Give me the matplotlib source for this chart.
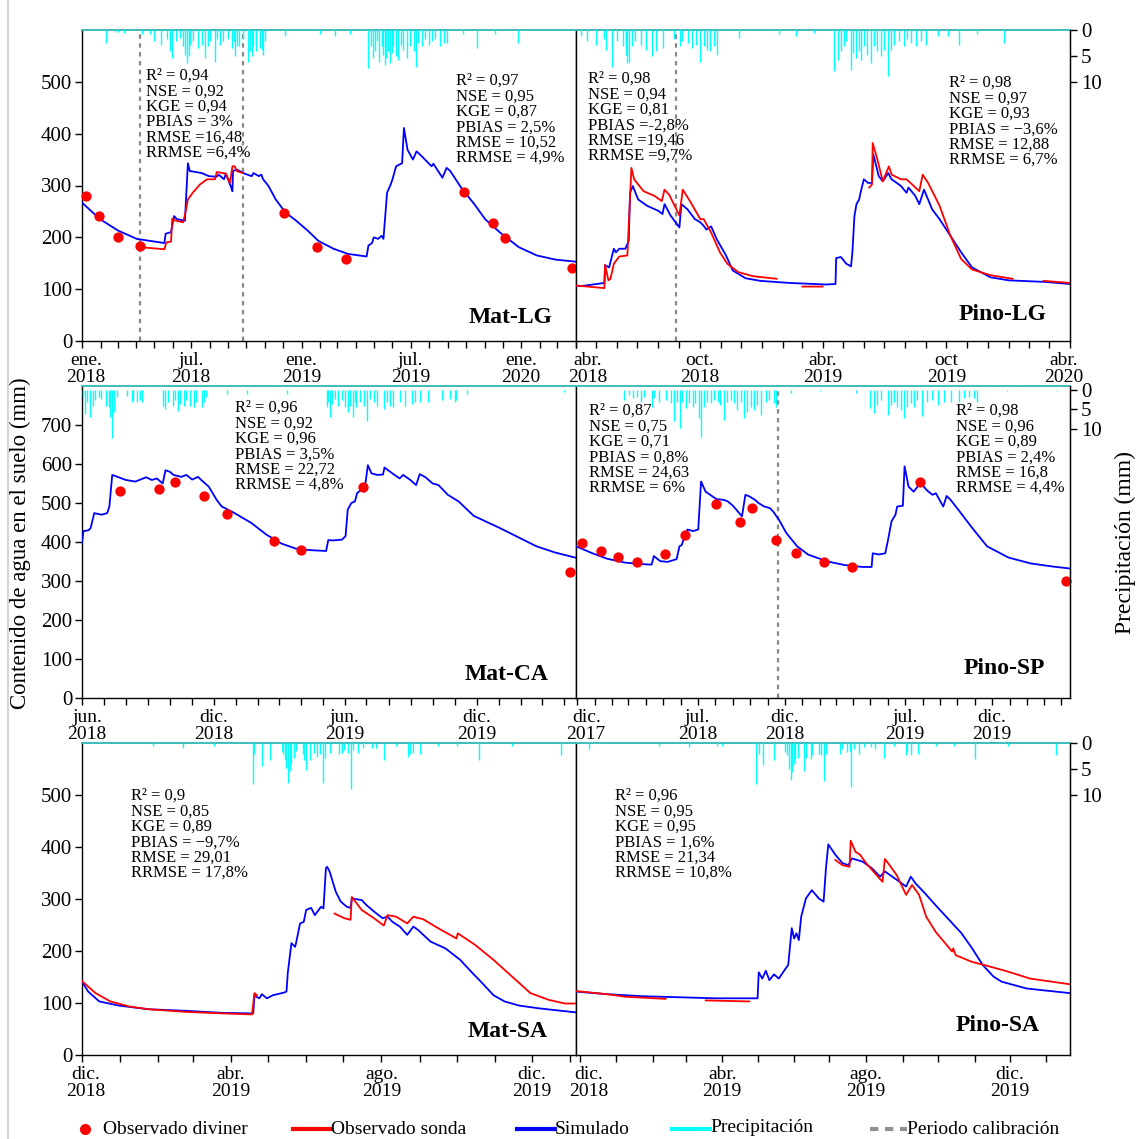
import numpy as np
import matplotlib
matplotlib.use("Agg")
import matplotlib.pyplot as plt
import matplotlib.dates as mdates
import matplotlib.transforms as mtransforms
from matplotlib.ticker import FixedLocator, FixedFormatter

plt.rcParams['font.family'] = ['Liberation Serif', 'DejaVu Serif']

W, H = 1143, 1139
RED = '#ff0000'
BLUE = '#0000ff'
CYAN = '#00ffff'
nan = np.nan

# ---------------- Mat-LG (days since 2018-01-01) ----------------
matlg_sim_day = [0, 30, 60, 91, 137, 139, 148, 153, 158, 171, 176, 179, 199, 211, 224, 227, 236, 239, 248, 250,
                 251, 257, 270, 282, 285, 294, 298, 301, 310, 322, 338, 356, 375, 393, 418, 442, 473, 476, 482, 485,
                 492, 498, 501, 507, 513, 516, 522, 532, 535, 541, 550, 556, 565, 581, 584, 599, 606, 612, 630, 652,
                 670, 695, 726, 756, 787, 821]
matlg_sim = [267, 235, 213, 197, 189, 207, 210, 241, 235, 232, 343, 328, 324, 318, 317, 321, 312, 323, 296, 289,
             328, 331, 323, 318, 324, 318, 321, 312, 299, 273, 248, 232, 213, 193, 178, 168, 163, 184, 189, 200,
             197, 203, 197, 286, 302, 312, 337, 343, 411, 369, 350, 366, 356, 337, 342, 315, 334, 328, 296, 264,
             235, 209, 181, 165, 157, 153]
matlg_sonda_day = [96, 97, 137, 140, 148, 150, 156, 168, 172, 176, 184, 196, 208, 221, 224, 239, 246, 250, 254, 257, 267]
matlg_sonda = [183, 181, 177, 190, 192, 236, 232, 229, 248, 273, 286, 302, 312, 312, 326, 323, 305, 337, 337, 328, 324]
matlg_div_day = [6, 28, 60, 96, 336, 391, 439, 635, 683, 703, 815]
matlg_div = [280, 241, 200, 183, 246, 182, 158, 288, 227, 198, 141]
matlg_calib = [97, 267]
matlg_rain_day = [40, 55, 60, 69, 99, 113, 119, 132, 142, 146, 149, 157, 163, 168, 171, 174, 177, 180, 184, 193,
                  199, 204, 210, 213, 221, 225, 229, 235, 243, 249, 252, 254, 257, 261, 268, 276, 279, 282, 285, 290,
                  296, 299, 301, 304, 337, 396, 420, 445, 476, 480, 483, 487, 491, 494, 498, 501, 504, 506, 509, 512,
                  515, 517, 522, 526, 530, 534, 540, 545, 551, 555, 559, 565, 570, 576, 581, 587, 595, 601, 606, 634,
                  656, 686, 725]
matlg_rain = [2.5, 0.4, 0.4, 0.5, 0.8, 0.8, 2.2, 2.8, 1.8, 4.1, 5.4, 2.2, 1.5, 3.1, 4.8, 6.3, 5.1, 2.8, 2.2, 3.5,
              2.8, 5.4, 3.1, 2.2, 6.1, 1.8, 2.8, 2.2, 1.8, 3.5, 2.2, 5.1, 3.1, 3.1, 1.7, 6.1, 4.1, 5.1, 3.1, 4.1,
              3.5, 3.8, 4.8, 2.2, 1.2, 0.8, 1.2, 0.8, 7.4, 3.1, 5.4, 4.1, 2.2, 6.1, 3.1, 4.8, 6.7, 5.4, 4.1, 6.4,
              4.4, 3.1, 5.1, 5.8, 2.8, 3.8, 5.4, 3.1, 4.1, 7.1, 2.5, 3.1, 1.8, 2.8, 2.2, 1.8, 3.1, 2.5, 2.5, 0.8,
              3.5, 0.8, 2.5]
matlg_ticks = ['2018-01-01', '2018-07-01', '2019-01-01', '2019-07-01', '2020-01-01']
matlg_ticklabels = ['ene.\n2018', 'jul.\n2018', 'ene.\n2019', 'jul.\n2019', 'ene.\n2020']

# ---------------- Pino-LG (days since 2018-04-01) ----------------
pinolg_sim_day = [0, 8, 42, 43, 49, 56, 59, 64, 73, 78, 80, 84, 92, 105, 122, 128, 131, 140, 153, 156,
                  165, 176, 184, 189, 193, 200, 208, 222, 232, 251, 273, 316, 370, 384, 385, 392, 400, 407, 409, 412,
                  415, 419, 421, 426, 432, 438, 440, 448, 454, 462, 467, 481, 489, 492, 502, 508, 515, 527, 538, 554,
                  570, 586, 613, 640, 694, 731]
pinolg_sim = [107, 106, 112, 146, 142, 178, 171, 178, 178, 193, 286, 299, 273, 261, 251, 245, 264, 242, 219, 264,
              254, 235, 229, 222, 215, 221, 197, 165, 136, 121, 116, 112, 109, 110, 160, 162, 149, 144, 171, 241,
              264, 273, 286, 312, 305, 305, 360, 318, 308, 324, 312, 299, 286, 296, 280, 264, 292, 254, 235, 203,
              171, 142, 123, 117, 114, 110]
pinolg_sonda_day = [0, 42, 43, 48, 51, 56, 64, 76, 78, 82, 86, 100, 116, 127, 131, 138, 153, 158, 170, 184,
                    189, 200, 213, 224, 240, 262, 297, nan, 335, 365, nan, 434, 438, 439, 446, 454, 463, 467, 481, 489,
                    500, 508, 513, 521, 538, 554, 570, 586, 613, 646, nan, 692, 731]
pinolg_sonda = [107, 102, 147, 117, 120, 149, 163, 165, 222, 334, 312, 289, 280, 270, 292, 282, 242, 292, 267, 235,
                235, 209, 171, 149, 133, 125, 120, nan, 105, 105, nan, 296, 302, 382, 350, 308, 337, 321, 312, 312,
                299, 289, 321, 305, 261, 203, 158, 138, 127, 120, nan, 116, 112]
pinolg_calib = [148]
pinolg_rain_day = [8, 17, 29, 41, 45, 54, 61, 70, 74, 76, 78, 83, 88, 96, 103, 113, 118, 128, 145, 154,
                   157, 165, 172, 177, 184, 189, 194, 199, 204, 209, 241, 300, 325, 352, 382, 387, 392, 397, 399, 407,
                   410, 414, 419, 422, 426, 431, 436, 441, 446, 451, 456, 461, 466, 471, 478, 485, 490, 495, 503, 510,
                   518, 535, 550, 567, 594, 633]
pinolg_rain = [1.2, 2.2, 2.8, 1.8, 3.8, 7.1, 2.2, 3.1, 4.8, 6.4, 6.1, 3.1, 2.2, 2.8, 3.8, 5.1, 4.1, 3.5, 1.8, 3.1,
               2.2, 2.5, 3.5, 2.8, 6.1, 3.1, 3.8, 4.1, 3.1, 4.8, 1.5, 0.8, 1.2, 0.5, 8.0, 5.8, 4.1, 3.1, 2.2, 7.7,
               4.4, 5.4, 4.1, 5.8, 3.1, 4.8, 6.4, 3.1, 4.1, 5.1, 3.8, 8.9, 3.8, 2.8, 2.2, 3.1, 1.8, 2.5, 3.1, 2.2,
               2.8, 1.2, 1.2, 2.8, 0.8, 2.5]
pinolg_ticks = ['2018-04-01', '2018-10-01', '2019-04-01', '2019-10-01', '2020-04-01']
pinolg_ticklabels = ['abr.\n2018', 'oct.\n2018', 'abr.\n2019', 'oct\n2019', 'abr.\n2020']

# ---------------- Mat-CA (days since 2018-06-01) ----------------
matca_sim_day = [0, 2, 9, 12, 17, 27, 35, 38, 42, 61, 74, 81, 89, 97, 104, 112, 116, 122, 127, 138,
                 145, 153, 161, 168, 176, 187, 194, 210, 235, 256, 277, 297, 318, 339, 342, 348, 361, 366, 369, 374,
                 379, 382, 387, 392, 397, 402, 410, 418, 420, 431, 441, 446, 456, 464, 469, 477, 487, 495, 508, 523,
                 544, 580, 605, 631, 657, 685]
matca_sim = [398, 428, 430, 436, 474, 470, 474, 491, 572, 559, 555, 560, 566, 559, 563, 550, 584, 580, 572, 567,
             572, 560, 567, 555, 542, 508, 491, 476, 449, 419, 396, 383, 379, 377, 405, 404, 406, 415, 483, 500,
             504, 525, 533, 529, 597, 576, 572, 573, 591, 576, 563, 572, 559, 546, 574, 566, 550, 546, 521, 504,
             467, 436, 413, 389, 373, 360]
matca_div_day = [53, 107, 129, 170, 201, 267, 304, 390, 677]
matca_div = [531, 536, 555, 519, 472, 402, 379, 540, 322]
matca_rain_day = [2, 4, 7, 11, 15, 18, 23, 26, 34, 37, 39, 42, 44, 48, 62, 69, 71, 76, 81, 83,
                  113, 115, 119, 127, 129, 134, 136, 141, 145, 150, 155, 159, 166, 169, 172, 201, 229, 284, 340, 342,
                  344, 347, 351, 356, 361, 365, 370, 372, 377, 379, 381, 386, 391, 396, 400, 405, 409, 419, 423, 428,
                  432, 442, 449, 458, 463, 469, 481, 500, 511, 518, 520, 534, 669]
matca_rain = [1.9, 6.2, 3.2, 7.0, 4.0, 2.7, 1.9, 2.3, 4.0, 4.4, 7.0, 12.3, 5.7, 1.9, 1.5, 3.2, 2.7, 3.2, 2.7, 3.2,
              4.0, 4.9, 3.2, 4.0, 2.7, 5.3, 3.6, 4.0, 2.7, 4.0, 4.4, 3.2, 4.4, 3.2, 1.9, 1.0, 1.0, 1.0, 4.4, 3.2,
              7.0, 3.6, 2.3, 4.0, 2.7, 4.4, 5.7, 4.0, 7.0, 3.2, 4.4, 3.2, 4.0, 7.9, 2.3, 3.2, 4.0, 4.9, 3.2, 4.0,
              4.4, 3.2, 4.0, 3.6, 3.2, 3.2, 3.2, 2.7, 2.3, 3.2, 2.7, 1.0, 0.6]
matca_ticks = ['2018-06-01', '2018-12-01', '2019-06-01', '2019-12-01']
matca_ticklabels = ['jun.\n2018', 'dic.\n2018', 'jun.\n2019', 'dic.\n2019']

# ---------------- Pino-SP (days since 2017-12-01) ----------------
pinosp_sim_day = [-2, 27, 53, 85, 117, 131, 135, 146, 159, 175, 180, 184, 188, 194, 204, 213, 218, 226, 245, 258,
                  265, 274, 290, 296, 303, 313, 319, 329, 339, 345, 355, 368, 387, 406, 438, 470, 502, 518, 520, 531,
                  542, 547, 553, 560, 563, 573, 576, 583, 592, 599, 605, 615, 625, 631, 644, 650, 657, 673, 695, 721,
                  759, 798, 837, 867]
pinosp_sim = [389, 371, 357, 347, 343, 342, 364, 351, 349, 356, 389, 392, 411, 432, 428, 432, 555, 529, 510, 508,
              504, 493, 466, 521, 517, 508, 500, 491, 487, 478, 457, 423, 389, 368, 351, 341, 336, 336, 371, 368,
              371, 406, 453, 470, 491, 493, 594, 542, 529, 542, 550, 533, 521, 525, 491, 518, 508, 478, 436, 389,
              360, 345, 337, 332]
pinosp_div_day = [8, 42, 72, 105, 155, 190, 245, 287, 308, 350, 385, 435, 483, 604, 860]
pinosp_div = [398, 377, 362, 349, 368, 419, 498, 451, 487, 406, 373, 349, 337, 553, 299]
pinosp_calib = [353]
pinosp_rain_day = [82, 91, 99, 106, 112, 118, 131, 135, 144, 156, 165, 170, 176, 181, 185, 191, 197, 203, 208, 214,
                   218, 223, 229, 235, 241, 248, 252, 258, 264, 270, 276, 282, 288, 294, 298, 305, 311, 317, 323, 332,
                   337, 346, 349, 376, 428, 490, 516, 522, 528, 534, 546, 552, 557, 563, 569, 575, 581, 587, 593, 598,
                   607, 616, 625, 634, 645, 657, 672, 680, 689, 698, 704, 757, 845]
pinosp_rain = [2.6, 1.3, 2.1, 1.7, 3.0, 1.7, 4.3, 2.1, 3.0, 2.6, 3.4, 8.1, 3.0, 9.8, 3.0, 4.7, 3.4, 4.3, 3.4, 7.3,
               12.1, 4.3, 3.0, 3.4, 2.6, 3.0, 3.8, 7.7, 3.0, 2.6, 3.4, 5.1, 3.0, 7.3, 5.6, 4.3, 5.1, 3.8, 6.4, 3.0,
               2.6, 3.4, 4.3, 0.9, 0.4, 0.9, 4.7, 6.0, 3.8, 2.6, 6.4, 3.8, 3.0, 4.3, 5.1, 7.3, 4.3, 3.4, 4.3, 2.6,
               6.8, 3.0, 2.6, 3.8, 3.0, 3.0, 3.0, 2.1, 1.7, 2.1, 3.0, 0.4, 0.4]
pinosp_ticks = ['2017-12-01', '2018-07-01', '2018-12-01', '2019-07-01', '2019-12-01']
pinosp_ticklabels = ['dic.\n2017', 'jul.\n2018', 'dic.\n2018', 'jul.\n2019', 'dic.\n2019']

# ---------------- Mat-SA (days since 2018-12-01) ----------------
matsa_sim_day = [0, 5, 14, 30, 54, 84, 114, 139, 140, 144, 146, 150, 155, 164, 166, 167, 170, 173, 174, 177,
                 180, 182, 186, 189, 194, 196, 198, 199, 201, 206, 210, 215, 218, 219, 227, 231, 237, 244, 248, 252,
                 258, 264, 269, 273, 283, 295, 307, 316, 325, 334, 343, 355, 370, 385, 401]
matsa_sim = [141, 122, 103, 95, 88, 85, 81, 80, 114, 109, 117, 109, 115, 120, 122, 157, 215, 208, 218, 253,
             256, 279, 283, 269, 285, 282, 359, 362, 353, 314, 295, 285, 283, 301, 298, 288, 276, 263, 266, 256,
             247, 231, 247, 240, 218, 205, 183, 160, 138, 115, 103, 95, 90, 86, 82]
matsa_sonda_day = [0, 11, 23, 39, 54, 84, 114, 138, 140, 142, nan, 205, 213, 218, 219, 227, 237, 245, 248, 255,
                   264, 269, 277, 289, 304, 305, 319, 334, 349, 364, 379, 392, 401]
matsa_sonda = [142, 119, 103, 93, 88, 83, 80, 78, 119, 115, nan, 272, 263, 260, 304, 279, 263, 249, 269, 266,
               253, 266, 261, 244, 224, 234, 212, 183, 151, 119, 106, 99, 99]
matsa_rain_day = [58, 82, 107, 139, 140, 146, 153, 162, 163, 165, 166, 167, 169, 170, 172, 174, 179, 180, 182, 185,
                  188, 191, 193, 196, 197, 201, 209, 211, 213, 216, 218, 220, 224, 228, 235, 239, 245, 255, 265, 266,
                  269, 274, 289, 304, 322, 349, 389]
matsa_rain = [0.6, 1.0, 0.6, 7.9, 2.2, 4.4, 3.3, 1.6, 2.2, 3.2, 4.8, 7.6, 5.4, 3.8, 2.9, 1.6, 2.2, 3.2, 5.1, 3.3,
              1.9, 2.6, 2.2, 7.7, 2.9, 1.9, 2.2, 1.9, 1.3, 1.9, 8.8, 1.3, 1.9, 1.0, 1.0, 1.0, 3.2, 0.6, 2.6, 2.2,
              1.9, 2.2, 0.6, 0.6, 3.2, 0.6, 2.4]
matsa_ticks = ['2018-12-01', '2019-04-01', '2019-08-01', '2019-12-01']
matsa_ticklabels = ['dic.\n2018', 'abr.\n2019', 'ago.\n2019', 'dic.\n2019']

# ---------------- Pino-SA (days since 2018-12-01) ----------------
pinosa_sim_day = [-3, 23, 54, 85, 116, 151, 152, 155, 158, 161, 165, 169, 175, 177, 180, 182, 184, 186, 188, 192,
                  197, 203, 207, 209, 211, 217, 223, 228, 231, 240, 248, 255, 259, 269, 277, 281, 285, 293, 302, 311,
                  324, 333, 342, 351, 358, 379, 395, 416]
pinosa_sim = [122, 117, 113, 111, 109, 109, 159, 147, 162, 144, 155, 147, 167, 173, 244, 224, 234, 221, 266, 301,
              317, 301, 295, 359, 405, 385, 369, 365, 378, 372, 359, 343, 353, 337, 324, 343, 330, 311, 288, 266,
              234, 205, 173, 151, 141, 128, 124, 119]
pinosa_sonda_day = [-3, 23, 39, 73, nan, 107, 144, nan, 217, 223, 229, 230, 234, 238, 243, 257, 259, 263, 269, 277,
                    282, 288, 294, 302, 316, 317, 319, 333, 345, 364, 382, 416]
pinosa_sonda = [123, 117, 112, 108, nan, 105, 103, nan, 375, 365, 362, 412, 391, 385, 369, 333, 377, 365, 346, 308,
                327, 308, 266, 237, 199, 205, 192, 179, 172, 160, 147, 136]
pinosa_rain_day = [8, 67, 93, 117, 121, 150, 152, 156, 165, 174, 176, 178, 179, 180, 182, 183, 185, 190, 192, 196,
                   197, 203, 205, 207, 209, 221, 223, 227, 229, 230, 233, 237, 241, 247, 251, 258, 267, 277, 278, 281,
                   287, 302, 318, 335, 363, 404]
pinosa_rain = [1.2, 0.5, 0.8, 0.5, 0.6, 7.8, 2.1, 4.2, 3.2, 1.8, 2.4, 5.0, 7.2, 5.6, 4.0, 3.1, 2.8, 5.3, 2.8, 3.1,
               2.4, 2.1, 2.4, 7.4, 2.1, 2.1, 1.2, 1.8, 1.5, 8.5, 1.2, 2.1, 0.8, 0.8, 1.2, 2.8, 0.5, 2.4, 1.8, 2.4,
               2.1, 0.5, 0.5, 3.1, 0.5, 2.3]
pinosa_ticks = ['2018-12-01', '2019-04-01', '2019-08-01', '2019-12-01']
pinosa_ticklabels = ['dic.\n2018', 'abr.\n2019', 'ago.\n2019', 'dic.\n2019']

# statistics boxes
stats_matlg = ["R² = 0,94\nNSE = 0,92\nKGE = 0,94\nPBIAS = 3%\nRMSE =16,48\nRRMSE =6,4%",
               "R² = 0,97\nNSE = 0,95\nKGE = 0,87\nPBIAS = 2,5%\nRMSE = 10,52\nRRMSE = 4,9%"]
stats_pinolg = ["R² = 0,98\nNSE = 0,94\nKGE = 0,81\nPBIAS =-2,8%\nRMSE =19,46\nRRMSE =9,7%",
                "R² = 0,98\nNSE = 0,97\nKGE = 0,93\nPBIAS = \u22123,6%\nRMSE = 12,88\nRRMSE = 6,7%"]
stats_matca = ["R² = 0,96\nNSE = 0,92\nKGE = 0,96\nPBIAS = 3,5%\nRMSE = 22,72\nRRMSE = 4,8%"]
stats_pinosp = ["R² = 0,87\nNSE = 0,75\nKGE = 0,71\nPBIAS = 0,8%\nRMSE = 24,63\nRRMSE = 6%",
                "R² = 0,98\nNSE = 0,96\nKGE = 0,89\nPBIAS = 2,4%\nRMSE = 16,8\nRRMSE = 4,4%"]
stats_matsa = ["R² = 0,9\nNSE = 0,85\nKGE = 0,89\nPBIAS = \u22129,7%\nRMSE = 29,01\nRRMSE = 17,8%"]
stats_pinosa = ["R² = 0,96\nNSE = 0,95\nKGE = 0,95\nPBIAS = 1,6%\nRMSE = 21,34\nRRMSE = 10,8%"]


fig = plt.figure(figsize=(W / 100, H / 100), dpi=100)
fig.patch.set_facecolor('white')

# inverted precipitation scale: (bottom value, top value) per row height
RAIN_LIM = {60: (60, 0), 80: (79, -1)}


def to_num(base, days):
    return mdates.date2num(np.datetime64(base)) + np.asarray(days, dtype=float)


def date_num(dates):
    return mdates.date2num(np.array(dates, dtype='datetime64[D]'))


def draw_panel(px, base, xlim, ylim, yticks, rain_top, sim_day, sim, rain_day, rain, ticks, ticklabels,
               name, name_pos, stats, stats_pos, right, first_shift=0, last_shift=0,
               sonda_day=None, sonda=None, div_day=None, div=None, calib=()):
    x0, y0, x1, y1 = px
    ax = fig.add_axes([x0 / W, 1 - y1 / H, (x1 - x0) / W, (y1 - y0) / H])
    ax.set_xlim(to_num(base, xlim[0]), to_num(base, xlim[1]))
    ax.set_ylim(*ylim)

    # precipitation hanging from the top on an inverted twin axis
    ax2 = ax.twinx()
    ax2.vlines(to_num(base, rain_day), 0, rain, color=CYAN, lw=1.0)
    ax2.set_ylim(*RAIN_LIM[rain_top])
    for s in ax2.spines.values():
        s.set_visible(False)
    if right:
        ax2.spines['right'].set_visible(True)
        ax2.set_yticks([0, 5, 10])
        ax2.tick_params(axis='y', direction='out', length=5, width=1, labelsize=15, pad=3)
    else:
        ax2.set_yticks([])

    for c in calib:
        ax.axvline(to_num(base, c), color='#888888', lw=1.6, ls=(0, (2, 2)), zorder=1)

    ax.plot(to_num(base, sim_day), sim, color=BLUE, lw=1.3, zorder=3)
    if sonda_day is not None:
        ax.plot(to_num(base, sonda_day), sonda, color=RED, lw=1.3, zorder=4)
    if div_day is not None:
        ax.scatter(to_num(base, div_day), div, s=55, color=RED, zorder=5, clip_on=False, linewidths=0)

    ax.xaxis.set_major_locator(FixedLocator(date_num(ticks)))
    ax.xaxis.set_major_formatter(FixedFormatter(ticklabels))
    ax.xaxis.set_minor_locator(mdates.MonthLocator())
    ax.tick_params(axis='x', which='both', direction='out', length=5, width=1, labelsize=14, pad=3)
    labels = ax.get_xticklabels()
    for lab in labels:
        lab.set_linespacing(1.0)
    if first_shift:
        labels[0].set_transform(labels[0].get_transform() +
                                mtransforms.ScaledTranslation(first_shift / 100, 0, fig.dpi_scale_trans))
    if last_shift:
        labels[-1].set_transform(labels[-1].get_transform() +
                                 mtransforms.ScaledTranslation(last_shift / 100, 0, fig.dpi_scale_trans))

    if right:
        ax.tick_params(axis='y', left=False, labelleft=False)
    else:
        ax.set_yticks(yticks)
        ax.tick_params(axis='y', direction='out', length=5, width=1, labelsize=15, pad=2)

    for s in ax.spines.values():
        s.set_linewidth(1.0)
    ax.spines['top'].set_color('#3cbcbc')
    ax.spines['top'].set_linewidth(1.4)

    ax.text(name_pos[0], name_pos[1], name, transform=ax.transAxes, ha='right', va='center',
            fontsize=17, fontweight='bold')
    for txt, (tx, ty) in zip(stats, stats_pos):
        fig.text(tx / W, 1 - ty / H, txt, ha='left', va='top', fontsize=12, linespacing=0.95)
    return ax


# panel pixel boxes: (left, top, right, bottom)
L, M, R = 82, 576, 1070
ROWS = [(30, 341), (386, 698), (743, 1055)]

draw_panel((L, ROWS[0][0], M, ROWS[0][1]), '2018-01-01', (0, 821), (0, 600), range(0, 501, 100), 60,
           matlg_sim_day, matlg_sim, matlg_rain_day, matlg_rain, matlg_ticks, matlg_ticklabels,
           'Mat-LG', (0.953, 0.077), stats_matlg, [(146, 68), (456, 73)], False, first_shift=4,
           sonda_day=matlg_sonda_day, sonda=matlg_sonda, div_day=matlg_div_day, div=matlg_div, calib=matlg_calib)
draw_panel((M, ROWS[0][0], R, ROWS[0][1]), '2018-04-01', (0, 731), (0, 600), range(0, 501, 100), 60,
           pinolg_sim_day, pinolg_sim, pinolg_rain_day, pinolg_rain, pinolg_ticks, pinolg_ticklabels,
           'Pino-LG', (0.953, 0.084), stats_pinolg, [(588, 71), (949, 75)], True, first_shift=12, last_shift=-6,
           sonda_day=pinolg_sonda_day, sonda=pinolg_sonda, calib=pinolg_calib)
draw_panel((L, ROWS[1][0], M, ROWS[1][1]), '2018-06-01', (0, 686), (0, 800), range(0, 701, 100), 80,
           matca_sim_day, matca_sim, matca_rain_day, matca_rain, matca_ticks, matca_ticklabels,
           'Mat-CA', (0.945, 0.074), stats_matca, [(235, 400)], False, first_shift=5,
           div_day=matca_div_day, div=matca_div)
draw_panel((M, ROWS[1][0], R, ROWS[1][1]), '2017-12-01', (-2, 867), (0, 800), range(0, 701, 100), 80,
           pinosp_sim_day, pinosp_sim, pinosp_rain_day, pinosp_rain, pinosp_ticks, pinosp_ticklabels,
           'Pino-SP', (0.949, 0.096), stats_pinosp, [(589, 403), (956, 403)], True, first_shift=9,
           div_day=pinosp_div_day, div=pinosp_div, calib=pinosp_calib)
draw_panel((L, ROWS[2][0], M, ROWS[2][1]), '2018-12-01', (0, 401), (0, 600), range(0, 501, 100), 60,
           matsa_sim_day, matsa_sim, matsa_rain_day, matsa_rain, matsa_ticks, matsa_ticklabels,
           'Mat-SA', (0.943, 0.074), stats_matsa, [(131, 788)], False, first_shift=4,
           sonda_day=matsa_sonda_day, sonda=matsa_sonda)
draw_panel((M, ROWS[2][0], R, ROWS[2][1]), '2018-12-01', (-3, 416), (0, 600), range(0, 501, 100), 60,
           pinosa_sim_day, pinosa_sim, pinosa_rain_day, pinosa_rain, pinosa_ticks, pinosa_ticklabels,
           'Pino-SA', (0.939, 0.093), stats_pinosa, [(615, 788)], True, first_shift=9,
           sonda_day=pinosa_sonda_day, sonda=pinosa_sonda)

fig.text(20 / W, 1 - 543 / H, 'Contenido de agua en el suelo (mm)', rotation=90, ha='center', va='center',
         fontsize=16.5)
fig.text(1125 / W, 1 - 543 / H, 'Precipitación (mm)', rotation=90, ha='center', va='center', fontsize=17)

# legend row along the bottom, laid out in pixel units
lax = fig.add_axes([0, 0, 1, 1], zorder=-1)
lax.set_xlim(0, W)
lax.set_ylim(H, 0)
lax.axis('off')
lax.axvline(7.5, color='#d6d6d6', lw=1.5)
ly = 1129
lax.plot([85], [ly], 'o', color=RED, ms=8, mec='none')
lax.text(103, ly, 'Observado diviner', va='center', fontsize=14)
lax.plot([293, 331], [ly, ly], color=RED, lw=3)
lax.text(331, ly, 'Observado sonda', va='center', fontsize=14)
lax.plot([517, 555], [ly, ly], color=BLUE, lw=3)
lax.text(555, ly, 'Simulado', va='center', fontsize=14)
lax.plot([672, 710], [ly, ly], color=CYAN, lw=3)
lax.text(710, ly - 1, 'Precipitación', va='center', fontsize=14)
lax.plot([870, 907], [ly, ly], color='#909090', lw=3, ls=(0, (2, 1.6)))
lax.text(907, ly, 'Periodo calibración', va='center', fontsize=14)

fig.savefig('out.png', dpi=100)
